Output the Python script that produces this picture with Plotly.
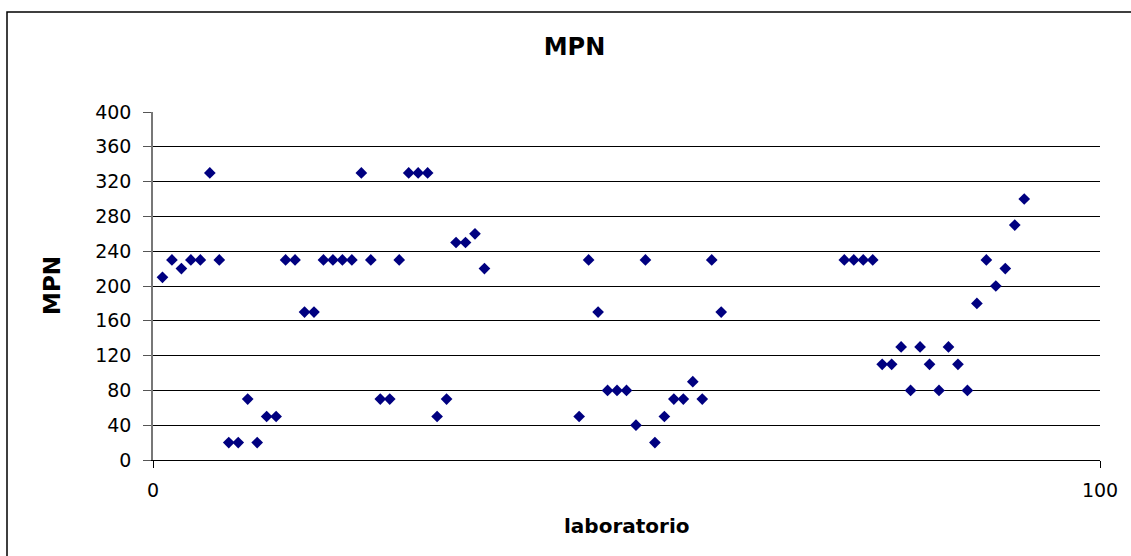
import plotly.graph_objects as go

# laboratory number and MPN result for each participating laboratory
laboratorio = [
    1, 2, 3, 4, 5, 6, 7, 8, 9, 10, 11, 12, 13, 14, 15, 16, 17, 18, 19, 20,
    21, 22, 23, 24, 25, 26, 27, 28, 29, 30, 31, 32, 33, 34, 35,
    45, 46, 47, 48, 49, 50, 51, 52, 53, 54, 55, 56, 57, 58, 59, 60,
    73, 74, 75, 76, 77, 78, 79, 80, 81, 82, 83, 84, 85, 86, 87, 88, 89, 90, 91, 92,
]
mpn = [
    210, 230, 220, 230, 230, 330, 230, 20, 20, 70, 20, 50, 50, 230, 230, 170, 170, 230, 230, 230,
    230, 330, 230, 70, 70, 230, 330, 330, 330, 50, 70, 250, 250, 260, 220,
    50, 230, 170, 80, 80, 80, 40, 230, 20, 50, 70, 70, 90, 70, 230, 170,
    230, 230, 230, 230, 110, 110, 130, 80, 130, 110, 80, 130, 110, 80, 180, 230, 200, 220, 270, 300,
]

y_ticks = list(range(0, 401, 40))
x_ticks = [0, 100]

W, H = 1131, 556
L, R, T, B = 153, 31, 112, 96
pw, ph = W - L - R, H - T - B

font_family = "DejaVu Sans, Arial, sans-serif"

fig = go.Figure(
    go.Scatter(
        x=laboratorio,
        y=mpn,
        mode="markers",
        marker=dict(symbol="diamond", size=9, color="#000080", line=dict(width=0)),
        showlegend=False,
    )
)

fig.update_layout(
    width=W,
    height=H,
    margin=dict(l=L, r=R, t=T, b=B, autoexpand=False),
    paper_bgcolor="white",
    plot_bgcolor="white",
    font=dict(family=font_family, size=19, color="black"),
    title=dict(
        text="<b>MPN</b>",
        font=dict(family=font_family, size=24, color="black"),
        xref="container", x=574.5 / W, xanchor="center",
        yref="container", y=1 - 47 / H, yanchor="middle",
    ),
)

fig.update_xaxes(
    range=[0, 100],
    tickvals=x_ticks,
    ticks="outside",
    ticklen=7,
    tickcolor="black",
    tickfont=dict(size=19),
    ticklabelstandoff=6,
    showgrid=False,
    zeroline=False,
    showline=True,
    linecolor="black",
    linewidth=1,
    fixedrange=True,
)
fig.update_yaxes(
    range=[0, 400],
    tickvals=y_ticks,
    ticks="outside",
    ticklen=8,
    tickcolor="#555",
    tickfont=dict(size=19),
    ticklabelstandoff=8,
    showgrid=True,
    gridcolor="black",
    gridwidth=1,
    zeroline=False,
    showline=True,
    linecolor="#777",
    linewidth=1.5,
    fixedrange=True,
)

# axis titles
fig.add_annotation(
    text="<b>laboratorio</b>",
    xref="paper", yref="paper",
    x=0.5, y=(460 - 526) / ph,
    xanchor="center", yanchor="middle",
    showarrow=False,
    font=dict(family=font_family, size=20, color="black"),
)
fig.add_annotation(
    text="<b>MPN</b>",
    xref="paper", yref="paper",
    x=(52 - L) / pw, y=0.5,
    xanchor="center", yanchor="middle",
    textangle=-90,
    showarrow=False,
    font=dict(family=font_family, size=23, color="black"),
)

# chart frame
fig.add_shape(
    type="rect",
    xref="paper", yref="paper",
    x0=(7 - L) / pw, x1=(W + 10 - L) / pw,
    y0=(460 - (H + 10)) / ph, y1=(460 - 12) / ph,
    line=dict(color="black", width=1.5),
    fillcolor="rgba(0,0,0,0)",
    layer="below",
)

fig.write_html("out.html")
